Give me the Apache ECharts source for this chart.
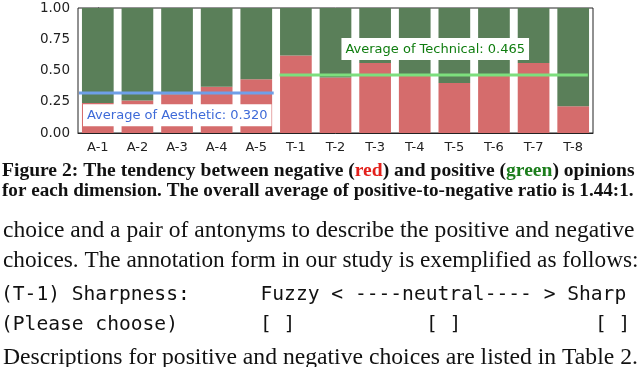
<!DOCTYPE html>
<html>
<head>
<meta charset="utf-8">
<script src="https://cdn.jsdelivr.net/npm/echarts@6/dist/echarts.min.js"></script>
<style>
html, body { margin: 0; padding: 0; background: #fff; }
#main { width: 640px; height: 367px; }
</style>
</head>
<body>
<div id="main"></div>
<script>
// data
var categories = ['A-1', 'A-2', 'A-3', 'A-4', 'A-5', 'T-1', 'T-2', 'T-3', 'T-4', 'T-5', 'T-6', 'T-7', 'T-8']
var negative = [0.24, 0.26, 0.31, 0.37, 0.43, 0.62, 0.445, 0.56, 0.47, 0.40, 0.47, 0.56, 0.215]
var positive = [0.76, 0.74, 0.69, 0.63, 0.57, 0.38, 0.555, 0.44, 0.53, 0.60, 0.53, 0.44, 0.785]
var yTicks = [0, 0.25, 0.5, 0.75, 1]
var aestheticAvg = 0.320
var technicalAvg = 0.465
// hlines: start / end in category units
var aestheticSpan = [-0.475, 4.44]
var technicalSpan = [4.59, 12.37]

var captionLines = [
  'Figure 2: The tendency between negative ({r|red}) and positive ({g|green}) opinions',
  'for each dimension. The overall average of positive-to-negative ratio is 1.44:1.'
]
var bodyLines = [
  'choice and a pair of antonyms to describe the positive and negative',
  'choices. The annotation form in our study is exemplified as follows:'
]
var lastLine = 'Descriptions for positive and negative choices are listed in Table 2.'
var formLine1 = '(T-1) Sharpness:      Fuzzy < ----neutral---- > Sharp'
var formLine2 = ['(Please choose)', '[ ]', '[ ]', '[ ]']

var RED = '#d56c6c'
var GREEN = '#5a7f59'
var serif = 'Liberation Serif'
var mono = 'DejaVu Sans Mono'

var ctx = document.createElement('canvas').getContext('2d')
function fit (text, weight, family, width) {
  ctx.font = weight + ' 100px "' + family + '"'
  return 100 * width / ctx.measureText(text.replace(/\{[rg]\|([^}]*)\}/g, '$1')).width
}

var chart = echarts.init(document.getElementById('main'))

var capWidths = [633, 632]
var graphics = []
captionLines.forEach(function (t, i) {
  var s = fit(t, 'bold', serif, capWidths[i])
  graphics.push({
    type: 'text', x: 2, y: 171 + i * 20,
    style: {
      text: t, fontSize: s, fontFamily: serif, fontWeight: 'bold', fill: '#111',
      verticalAlign: 'middle',
      rich: {
        r: {fill: '#e3201b', fontSize: s, fontFamily: serif, fontWeight: 'bold'},
        g: {fill: '#1b7d1b', fontSize: s, fontFamily: serif, fontWeight: 'bold'}
      }
    }
  })
})
bodyLines.forEach(function (t, i) {
  graphics.push({
    type: 'text', x: 3, y: 231 + i * 29.5,
    style: {text: t, fontSize: fit(t, 'normal', serif, i === 0 ? 632 : 636), fontFamily: serif, fill: '#111', verticalAlign: 'middle'}
  })
})
graphics.push({
  type: 'text', x: 3, y: 358,
  style: {text: lastLine, fontSize: fit(lastLine, 'normal', serif, 635), fontFamily: serif, fill: '#111', verticalAlign: 'middle'}
})
var monoSize = 19.6
graphics.push({
  type: 'text', x: 1, y: 295,
  style: {text: formLine1, fontSize: monoSize, fontFamily: mono, fill: '#111', verticalAlign: 'middle'}
})
var formX = [1, 260, 426, 595]
formLine2.forEach(function (t, i) {
  graphics.push({
    type: 'text', x: formX[i], y: 325,
    style: {text: t, fontSize: monoSize, fontFamily: mono, fill: '#111', verticalAlign: 'middle'}
  })
})

var option = {
  backgroundColor: '#fff',
  animation: false,
  grid: {left: 78, top: 8, width: 515, height: 125, show: true, borderColor: '#222', borderWidth: 1, backgroundColor: 'transparent'},
  xAxis: [
    {
      type: 'category',
      data: categories,
      axisLine: {show: true, lineStyle: {color: '#222'}},
      axisTick: {alignWithLabel: true, length: 4, lineStyle: {color: '#222'}},
      axisLabel: {color: '#222', fontSize: 13, fontFamily: 'DejaVu Sans', margin: 8}
    },
    {type: 'value', min: -0.5, max: 12.5, show: false}
  ],
  yAxis: {
    type: 'value', min: 0, max: 1, interval: 0.25,
    axisLine: {show: true, lineStyle: {color: '#222'}},
    axisTick: {show: true, length: 4, lineStyle: {color: '#222'}},
    splitLine: {show: false},
    axisLabel: {color: '#222', fontSize: 13.5, fontFamily: 'DejaVu Sans', margin: 8,
      formatter: function (v) { return yTicks.indexOf(v) >= 0 ? v.toFixed(2) : '' }}
  },
  series: [
    {name: 'negative', type: 'bar', stack: 'op', data: negative, barWidth: '80%', itemStyle: {color: RED}},
    {name: 'positive', type: 'bar', stack: 'op', data: positive, barWidth: '80%', itemStyle: {color: GREEN}},
    {
      type: 'line', xAxisIndex: 1, symbol: 'none', z: 5,
      data: [[aestheticSpan[0], aestheticAvg], [aestheticSpan[1], aestheticAvg]],
      lineStyle: {color: '#6f9fe8', width: 3}
    },
    {
      type: 'line', xAxisIndex: 1, symbol: 'none', z: 5,
      data: [[technicalSpan[0], technicalAvg], [technicalSpan[1], technicalAvg]],
      lineStyle: {color: '#7ddf7d', width: 3}
    },
    {
      type: 'scatter', xAxisIndex: 1, symbolSize: 0, z: 10,
      itemStyle: {opacity: 1},
      data: [[-0.374, 0.142], [6.15, 0.673]],
      label: {
        show: true, position: 'right', distance: 0,
        fontFamily: 'DejaVu Sans', fontSize: 13,
        backgroundColor: '#fff', padding: [5, 4, 4, 4],
        formatter: function (p) {
          return p.dataIndex === 0
            ? '{b|Average of Aesthetic: ' + aestheticAvg.toFixed(3) + '}'
            : '{g|Average of Technical: ' + technicalAvg.toFixed(3) + '}'
        },
        rich: {
          b: {color: '#3e6ad8', fontFamily: 'DejaVu Sans', fontSize: 13},
          g: {color: '#0f7d0f', fontFamily: 'DejaVu Sans', fontSize: 13}
        }
      }
    }
  ],
  graphic: graphics
}
chart.setOption(option)
</script>
</body>
</html>
